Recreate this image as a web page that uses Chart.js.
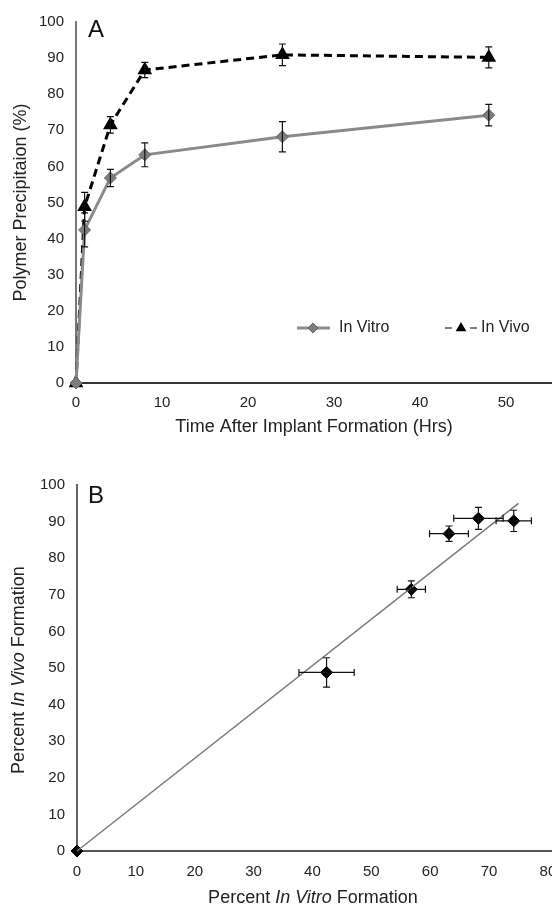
<!DOCTYPE html>
<html>
<head>
<meta charset="utf-8">
<title>Polymer precipitation</title>
<script src="https://cdn.jsdelivr.net/npm/chart.js@4.4.1/dist/chart.umd.min.js"></script>
<style>
  html, body { margin: 0; padding: 0; background: #fff; overflow: hidden; }
  .panel { position: relative; width: 552px; }
  .panel canvas { display: block; }
  #panelA { height: 450px; }
  #panelB { height: 457px; }
</style>
</head>
<body>
<div class="panel" id="panelA"><canvas id="chartA"></canvas></div>
<div class="panel" id="panelB"><canvas id="chartB"></canvas></div>
<script>
const FONT = "'Liberation Sans', Arial, Helvetica, sans-serif";
const TEXT = '#222';

// Panel A: precipitation vs time
const hours = [0, 1, 4, 8, 24, 48];
const inVitro = [0, 42.4, 56.8, 63.2, 68.2, 74.2];
const inVitroErr = [0, 4.7, 2.4, 3.3, 4.2, 3.0];
const inVivo = [0, 48.8, 71.5, 86.7, 90.9, 90.2];
const inVivoErr = [0, 4.0, 2.3, 2.1, 3.0, 2.9];
const hourTicks = [0, 10, 20, 30, 40, 50];
const percentTicks = [0, 10, 20, 30, 40, 50, 60, 70, 80, 90, 100];

// Panel B: in vivo vs in vitro, same measurements, plus the drawn trend line
const fitX = [0, 75];
const fitY = [0, 95];
const vitroTicks = [0, 10, 20, 30, 40, 50, 60, 70, 80];

function points(xs, ys) {
  return xs.map((x, i) => ({ x, y: ys[i] }));
}

function fixedTicks(values) {
  return (scale) => { scale.ticks = values.map((v) => ({ value: v })); };
}

// vertical / horizontal error bars with caps, drawn over the markers
const errorBars = {
  id: 'errorBars',
  afterDatasetsDraw(chart) {
    const { ctx, scales: { x, y } } = chart;
    const cap = 3.5;
    ctx.save();
    ctx.strokeStyle = '#111';
    ctx.lineWidth = 1.2;
    chart.data.datasets.forEach((ds) => {
      if (!ds.errY && !ds.errX) return;
      ds.data.forEach((p, j) => {
        const px = x.getPixelForValue(p.x);
        const py = y.getPixelForValue(p.y);
        const ey = ds.errY ? ds.errY[j] : 0;
        const ex = ds.errX ? ds.errX[j] : 0;
        ctx.beginPath();
        if (ey > 0) {
          const t = y.getPixelForValue(p.y + ey);
          const b = y.getPixelForValue(p.y - ey);
          ctx.moveTo(px, t); ctx.lineTo(px, b);
          ctx.moveTo(px - cap, t); ctx.lineTo(px + cap, t);
          ctx.moveTo(px - cap, b); ctx.lineTo(px + cap, b);
        }
        if (ex > 0) {
          const l = x.getPixelForValue(p.x - ex);
          const r = x.getPixelForValue(p.x + ex);
          ctx.moveTo(l, py); ctx.lineTo(r, py);
          ctx.moveTo(l, py - cap); ctx.lineTo(l, py + cap);
          ctx.moveTo(r, py - cap); ctx.lineTo(r, py + cap);
        }
        ctx.stroke();
      });
    });
    ctx.restore();
  }
};

function panelLetter(letter, x, y) {
  return {
    id: 'letter' + letter,
    afterDraw(chart) {
      const ctx = chart.ctx;
      ctx.save();
      ctx.font = '24px ' + FONT;
      ctx.fillStyle = '#111';
      ctx.textBaseline = 'alphabetic';
      ctx.fillText(letter, x, y);
      ctx.restore();
    }
  };
}

function diamond(ctx, x, y, r, fill, stroke) {
  ctx.beginPath();
  ctx.moveTo(x, y - r); ctx.lineTo(x + r, y); ctx.lineTo(x, y + r); ctx.lineTo(x - r, y);
  ctx.closePath();
  ctx.fillStyle = fill; ctx.fill();
  ctx.strokeStyle = stroke; ctx.lineWidth = 1; ctx.stroke();
}

function triangle(ctx, x, y, r) {
  ctx.beginPath();
  ctx.moveTo(x, y - r); ctx.lineTo(x + r * 0.9, y + r * 0.55); ctx.lineTo(x - r * 0.9, y + r * 0.55);
  ctx.closePath();
  ctx.fillStyle = '#000'; ctx.fill();
}

// legend sits inside the plot, lower right
const legendA = {
  id: 'legendA',
  afterDraw(chart) {
    const ctx = chart.ctx;
    const y = 328;
    ctx.save();
    ctx.strokeStyle = '#8a8a8a';
    ctx.lineWidth = 3;
    ctx.beginPath(); ctx.moveTo(297, y); ctx.lineTo(330, y); ctx.stroke();
    diamond(ctx, 313, y, 5, '#7d7d7d', '#666');
    ctx.strokeStyle = '#000';
    ctx.beginPath();
    ctx.moveTo(445, y); ctx.lineTo(452, y);
    ctx.moveTo(470, y); ctx.lineTo(477, y);
    ctx.stroke();
    triangle(ctx, 461, y, 6);
    ctx.font = '16px ' + FONT;
    ctx.fillStyle = TEXT;
    ctx.textBaseline = 'middle';
    ctx.fillText('In Vitro', 339, y);
    ctx.fillText('In Vivo', 481, y);
    ctx.restore();
  }
};

// axis titles with italic runs for panel B
function drawRuns(ctx, runs, cx, cy, rotate) {
  ctx.save();
  ctx.translate(cx, cy);
  if (rotate) ctx.rotate(-Math.PI / 2);
  ctx.fillStyle = TEXT;
  ctx.textBaseline = 'middle';
  const fontOf = (r) => (r.italic ? 'italic ' : '') + '18px ' + FONT;
  let total = 0;
  runs.forEach((r) => { ctx.font = fontOf(r); total += ctx.measureText(r.text).width; });
  let x = -total / 2;
  runs.forEach((r) => {
    ctx.font = fontOf(r);
    ctx.fillText(r.text, x, 0);
    x += ctx.measureText(r.text).width;
  });
  ctx.restore();
}

const titlesB = {
  id: 'titlesB',
  afterDraw(chart) {
    const ctx = chart.ctx;
    drawRuns(ctx, [{ text: 'Percent ' }, { text: 'In Vitro', italic: true }, { text: ' Formation' }], 313, 448, false);
    drawRuns(ctx, [{ text: 'Percent ' }, { text: 'In Vivo', italic: true }, { text: ' Formation' }], 19, 220, true);
  }
};

// pin the plot's right edge to the canvas edge
const flushRight = {
  id: 'flushRight',
  afterLayout(chart) {
    const area = chart.chartArea;
    const x = chart.scales.x;
    const w = chart.width;
    if (area.right < w) {
      area.right = w;
      area.width = w - area.left;
      x.right = w;
      x.width = w - x.left;
      x.configure();
    }
  }
};

const tickFont = { family: FONT, size: 15 };

new Chart(document.getElementById('chartA'), {
  type: 'line',
  data: {
    datasets: [
      {
        label: 'In Vitro',
        data: points(hours, inVitro),
        errY: inVitroErr,
        borderColor: '#8a8a8a',
        borderWidth: 3,
        pointStyle: 'rectRot',
        pointRadius: 6,
        pointBackgroundColor: '#7d7d7d',
        pointBorderColor: '#666',
        pointBorderWidth: 1,
        clip: false
      },
      {
        label: 'In Vivo',
        data: points(hours, inVivo),
        errY: inVivoErr,
        borderColor: '#000',
        borderWidth: 3,
        borderDash: [8, 5],
        pointStyle: 'triangle',
        pointRadius: 5.5,
        pointBackgroundColor: '#000',
        pointBorderColor: '#000',
        clip: false
      }
    ]
  },
  options: {
    responsive: true,
    maintainAspectRatio: false,
    animation: false,
    layout: { padding: { top: 22, right: 0, left: 0, bottom: 0 } },
    plugins: { legend: { display: false }, tooltip: { enabled: false } },
    scales: {
      x: {
        type: 'linear',
        min: 0,
        max: 55.35,
        afterBuildTicks: fixedTicks(hourTicks),
        afterFit: (s) => { s.height = 67; s.paddingLeft = 0; s.paddingRight = 0; },
        grid: { display: false, drawTicks: false },
        border: { color: '#333', width: 2 },
        ticks: { font: tickFont, color: TEXT, padding: 11 },
        title: {
          display: true,
          text: 'Time After Implant Formation (Hrs)',
          font: { family: FONT, size: 18 },
          color: TEXT,
          padding: { top: 0, bottom: 12 }
        }
      },
      y: {
        min: 0,
        max: 100,
        afterBuildTicks: fixedTicks(percentTicks),
        afterFit: (s) => { s.width = 76; s.paddingLeft = 0; s.paddingRight = 0; },
        grid: { display: false, drawTicks: false },
        border: { color: '#777', width: 2 },
        ticks: { font: tickFont, color: TEXT, padding: 12 },
        title: {
          display: true,
          text: 'Polymer Precipitaion (%)',
          font: { family: FONT, size: 18 },
          color: TEXT,
          padding: { top: 10, bottom: 0 }
        }
      }
    }
  },
  plugins: [flushRight, errorBars, legendA, panelLetter('A', 88, 37)]
});

new Chart(document.getElementById('chartB'), {
  type: 'scatter',
  data: {
    datasets: [
      {
        label: 'Trend',
        type: 'line',
        data: points(fitX, fitY),
        borderColor: '#7a7a7a',
        borderWidth: 1.5,
        pointRadius: 0,
        clip: false
      },
      {
        label: 'In Vivo vs In Vitro',
        data: points(inVitro, inVivo),
        errX: inVitroErr,
        errY: inVivoErr,
        pointStyle: 'rectRot',
        pointRadius: 6,
        pointBackgroundColor: '#000',
        pointBorderColor: '#000',
        clip: false
      }
    ]
  },
  options: {
    responsive: true,
    maintainAspectRatio: false,
    animation: false,
    layout: { padding: { top: 35, right: 0, left: 0, bottom: 0 } },
    plugins: { legend: { display: false }, tooltip: { enabled: false } },
    scales: {
      x: {
        type: 'linear',
        min: 0,
        max: 80.7,
        afterBuildTicks: fixedTicks(vitroTicks),
        afterFit: (s) => { s.height = 56; s.paddingLeft = 0; s.paddingRight = 0; },
        grid: { display: false, drawTicks: false },
        border: { color: '#555', width: 2 },
        ticks: { font: tickFont, color: TEXT, padding: 12 }
      },
      y: {
        min: 0,
        max: 100,
        afterBuildTicks: fixedTicks(percentTicks),
        afterFit: (s) => { s.width = 77; s.paddingLeft = 0; s.paddingRight = 0; },
        grid: { display: false, drawTicks: false },
        border: { color: '#666', width: 2 },
        ticks: { font: tickFont, color: TEXT, padding: 12 }
      }
    }
  },
  plugins: [flushRight, errorBars, titlesB, panelLetter('B', 88, 53)]
});
</script>
</body>
</html>
